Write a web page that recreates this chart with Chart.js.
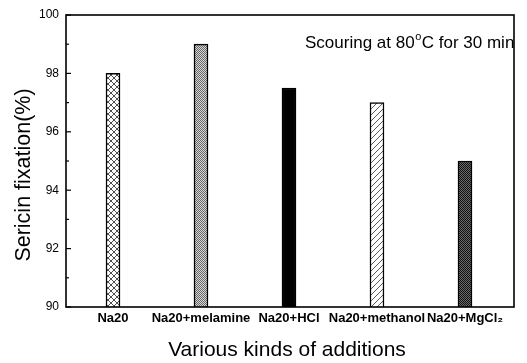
<!DOCTYPE html>
<html><head><meta charset="utf-8">
<script src="https://cdn.jsdelivr.net/npm/chart.js@4.4.1/dist/chart.umd.min.js"></script>
<style>html,body{margin:0;padding:0;background:#fff;}canvas{display:block;}</style>
</head><body>
<canvas id="c" width="527" height="363"></canvas>
<script>
const categories = ["Na20", "Na20+melamine", "Na20+HCl", "Na20+methanol", "Na20+MgCl\u2082"];
const fixation = [98, 99, 97.5, 97, 95];
const yTicks = [90, 92, 94, 96, 98, 100];
const xTitle = "Various kinds of additions";
const yTitle = "Sericin fixation(%)";
const note = ["Scouring at 80", "o", "C for 30 min"];

const FONT = "'Liberation Sans', Arial, sans-serif";

function makePattern(kind) {
  const p = document.createElement('canvas');
  const s = kind === 'cross' ? 6 : (kind === 'diag' ? 6 : 4);
  p.width = s; p.height = s;
  const g = p.getContext('2d');
  g.fillStyle = '#fff'; g.fillRect(0, 0, s, s);
  if (kind === 'cross') {
    g.strokeStyle = '#222'; g.lineWidth = 0.8;
    g.beginPath();
    g.moveTo(0, 0); g.lineTo(s, s);
    g.moveTo(s, 0); g.lineTo(0, s);
    g.stroke();
  } else if (kind === 'diag') {
    g.strokeStyle = '#333'; g.lineWidth = 0.8;
    g.beginPath();
    g.moveTo(-1, s + 1); g.lineTo(s + 1, -1);
    g.moveTo(-1, 1); g.lineTo(1, -1);
    g.moveTo(s - 1, s + 1); g.lineTo(s + 1, s - 1);
    g.stroke();
  } else if (kind === 'dot') {
    for (let y = 0; y < s; y++) for (let x = 0; x < s; x++) {
      g.fillStyle = ((x + y) % 2 === 0) ? '#666' : '#d8d8d8';
      g.fillRect(x, y, 1, 1);
    }
  } else if (kind === 'dark') {
    for (let y = 0; y < s; y++) for (let x = 0; x < s; x++) {
      g.fillStyle = ((x + y) % 2 === 0) ? '#111' : '#6a6a6a';
      g.fillRect(x, y, 1, 1);
    }
  }
  return document.getElementById('c').getContext('2d').createPattern(p, 'repeat');
}

const fills = [makePattern('cross'), makePattern('dot'), '#000', makePattern('diag'), makePattern('dark')];

const decor = {
  id: 'decor',
  beforeDraw(chart) {
    const ctx = chart.ctx;
    ctx.save();
    ctx.fillStyle = '#fff';
    ctx.fillRect(0, 0, chart.width, chart.height);
    ctx.restore();
  },
  afterDraw(chart) {
    const ctx = chart.ctx, a = chart.chartArea, ys = chart.scales.y;
    ctx.save();
    ctx.strokeStyle = '#000';
    ctx.lineWidth = 1.6;
    ctx.strokeRect(a.left, a.top, a.right - a.left, a.bottom - a.top);
    ctx.lineWidth = 1.2;
    for (let v = 90; v <= 100; v += 1) {
      const y = ys.getPixelForValue(v);
      const len = (v % 2 === 0) ? 5 : 3;
      ctx.beginPath();
      ctx.moveTo(a.left, y); ctx.lineTo(a.left + len, y);
      ctx.stroke();
    }
    ctx.fillStyle = '#000';
    ctx.textAlign = 'center'; ctx.textBaseline = 'middle';
    ctx.font = "21px " + FONT;
    ctx.fillText(xTitle, 287, 350);
    ctx.save();
    ctx.translate(24, 175);
    ctx.rotate(-Math.PI / 2);
    ctx.font = "21.5px " + FONT;
    ctx.fillText(yTitle, 0, 0);
    ctx.restore();
    ctx.textAlign = 'left'; ctx.textBaseline = 'alphabetic';
    ctx.font = "17px " + FONT;
    let x = 305; const by = 48;
    ctx.fillText(note[0], x, by); x += ctx.measureText(note[0]).width;
    ctx.font = "11px " + FONT;
    ctx.fillText(note[1], x + 0.5, by - 8); x += ctx.measureText(note[1]).width + 1;
    ctx.font = "17px " + FONT;
    ctx.fillText(note[2], x, by);
    ctx.restore();
  }
};

new Chart(document.getElementById('c'), {
  type: 'bar',
  data: {
    datasets: [{
      data: fixation.map((v, i) => ({ x: i, y: v })),
      backgroundColor: fills,
      borderColor: '#000',
      borderWidth: 1.5,
      borderSkipped: 'bottom',
      barThickness: 14
    }]
  },
  options: {
    responsive: false,
    animation: false,
    devicePixelRatio: 1,
    layout: { padding: { top: 15, right: 13, left: 0, bottom: 0 } },
    plugins: { legend: { display: false }, tooltip: { enabled: false } },
    scales: {
      x: {
        type: 'linear',
        offset: false,
        min: -0.534, max: 4.557,
        grid: { display: false, drawTicks: false, offset: false },
        border: { display: false },
        afterBuildTicks: s => { s.ticks = categories.map((c, i) => ({ value: i })); },
        afterFit: s => { s.height = 56; },
        ticks: {
          autoSkip: false, maxRotation: 0, padding: 4,
          color: '#000',
          font: { family: FONT, size: 13, weight: 'bold' },
          callback: v => categories[v]
        }
      },
      y: {
        min: 90, max: 100,
        grid: { display: false, drawTicks: false },
        border: { display: false },
        afterBuildTicks: s => { s.ticks = yTicks.map(v => ({ value: v })); },
        afterFit: s => { s.width = 66; },
        ticks: {
          padding: 7,
          color: '#000',
          font: { family: FONT, size: 12 }
        }
      }
    }
  },
  plugins: [decor]
});
</script>
</body></html>
